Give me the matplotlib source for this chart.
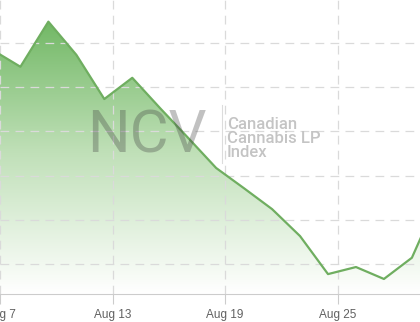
import numpy as np
import matplotlib.pyplot as plt
from matplotlib.patches import Polygon
from matplotlib.colors import LinearSegmentedColormap

# index level per trading day (ordinal axis, one step per session)
values = [108.4, 104.6, 114.8, 107.3, 97.3, 102.1, 95.2, 88.5, 81.7,
          77.1, 72.4, 66.3, 57.7, 59.3, 56.6, 61.4, 75.6]
first_idx = -1
tick_labels = ['Aug 7', 'Aug 13', 'Aug 19', 'Aug 25']
tick_pos = [-0.73, 3.30, 7.30, 11.35]
grid_levels = [60, 70, 80, 90, 100, 110]

x = np.arange(first_idx, first_idx + len(values))
y = np.array(values)

fig = plt.figure(figsize=(4.2, 3.22), dpi=100)
ax = fig.add_axes([0, 28 / 322, 1, 294 / 322])
ymin, ymax = 53.2, 119.7
xmin, xmax = -0.603, 14.29
ax.set_xlim(xmin, xmax)
ax.set_ylim(ymin, ymax)

# gradient fill under the line
grad = np.linspace(0, 1, 256).reshape(-1, 1)
cmap = LinearSegmentedColormap.from_list('g', ['#ffffff', '#c0e0b8', '#6cb55f'])
img = ax.imshow(grad, cmap=cmap, aspect='auto', origin='lower',
                extent=[xmin - 2, xmax + 2, ymin, 117], zorder=1)
poly = Polygon(np.vstack([np.column_stack([x, y]),
                          [[x[-1], ymin], [x[0], ymin]]]),
               closed=True, facecolor='none', edgecolor='none')
ax.add_patch(poly)
img.set_clip_path(poly)

ax.plot(x, y, color='#6fae60', lw=1.6, zorder=3)

# grid
for g in grid_levels:
    ax.axhline(g, color='#dadada', lw=0.9, ls=(0, (7, 5)), zorder=2)
for t in tick_pos:
    ax.axvline(t, color='#dadada', lw=0.9, ls=(0, (7, 5)), zorder=2)

ax.set_xticks(tick_pos)
ax.set_xticklabels(tick_labels, fontsize=8.5, color='#606060', family='Liberation Sans')
ax.tick_params(axis='x', length=7, color='#cccccc', pad=4)
ax.set_yticks([])
for s in ['top', 'left', 'right']:
    ax.spines[s].set_visible(False)
ax.spines['bottom'].set_color('#cccccc')

# watermark
fig.text(87 / 420, 1 - 153 / 322, 'NCV', fontsize=43, color='#404040', alpha=0.32,
         family='Roboto', fontweight='normal', ha='left', va='baseline', zorder=5)
fig.add_artist(plt.Line2D([222 / 420, 222 / 420], [1 - 163 / 322, 1 - 105 / 322],
                          color='#dcdcdc', lw=0.8))
fig.text(227 / 420, 1 - 157 / 322, 'Canadian\nCannabis LP\nIndex', fontsize=12,
         color='#c4c4c4', family='Roboto', fontweight='medium', ha='left',
         va='baseline', linespacing=0.92)

fig.savefig('out.png', dpi=100)
